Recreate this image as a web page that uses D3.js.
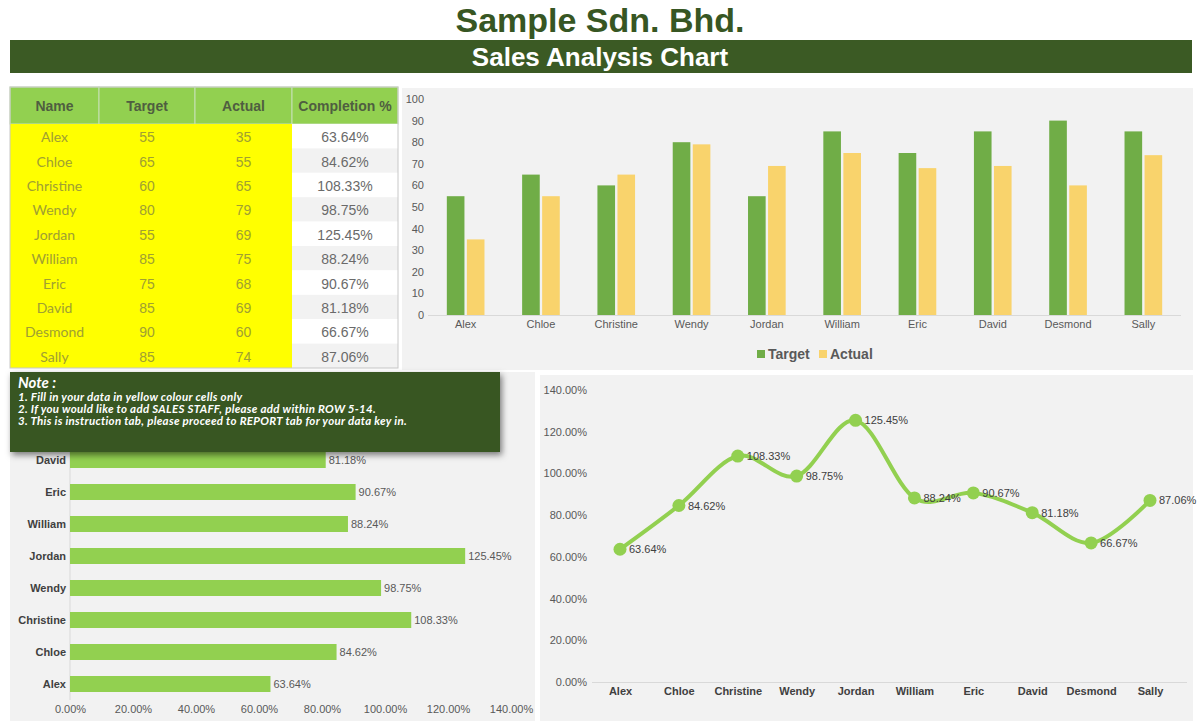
<!DOCTYPE html>
<html>
<head>
<meta charset="utf-8">
<script src="https://cdn.jsdelivr.net/npm/d3@7.9.0/dist/d3.min.js"></script>
<style>
  body { margin: 0; background: #fff; }
  svg { display: block; font-family: Arial, "Liberation Sans", sans-serif; }
</style>
</head>
<body>
<svg id="chart" width="1200" height="728"></svg>
<script>
// data read from the sheet
const names = ['Alex', 'Chloe', 'Christine', 'Wendy', 'Jordan', 'William', 'Eric', 'David', 'Desmond', 'Sally'];
const target = [55, 65, 60, 80, 55, 85, 75, 85, 90, 85];
const actual = [35, 55, 65, 79, 69, 75, 68, 69, 60, 74];
const completion = [63.64, 84.62, 108.33, 98.75, 125.45, 88.24, 90.67, 81.18, 66.67, 87.06];
const tableHeaders = ['Name', 'Target', 'Actual', 'Completion %'];
const noteLines = [
  '1. Fill in your data in yellow colour cells only',
  '2. If you would like to add SALES STAFF, please add within ROW 5-14.',
  '3. This is instruction tab, please proceed to REPORT tab for your data key in.'
];

const svg = d3.select('#chart');
const darkGreen = '#375623';
const green = '#70ad47';
const lightGreen = '#92d050';
const gold = '#f9d36c';
const panelBg = '#f2f2f2';
const axisText = '#595959';
const pct = (v) => v.toFixed(2) + '%';
const noteBottom = 452; // the note box sits over the top of the bar chart

// ---- title + banner ----
svg.append('text')
  .attr('x', 600).attr('y', 32)
  .attr('text-anchor', 'middle')
  .attr('font-size', 34).attr('font-weight', 'bold')
  .attr('fill', darkGreen)
  .text('Sample Sdn. Bhd.');

svg.append('rect').attr('x', 10).attr('y', 40).attr('width', 1182).attr('height', 33).attr('fill', '#3b5a24');
svg.append('text')
  .attr('x', 600).attr('y', 66)
  .attr('text-anchor', 'middle')
  .attr('font-size', 26).attr('font-weight', 'bold')
  .attr('fill', '#fff')
  .text('Sales Analysis Chart');

// ---- data table ----
const colEdges = [10, 99, 195, 292, 398];
const headTop = 87, headH = 37, rowH = 24.4;
const table = svg.append('g');

table.selectAll('rect.head')
  .data(tableHeaders)
  .join('rect')
  .attr('x', (d, i) => colEdges[i])
  .attr('y', headTop)
  .attr('width', (d, i) => colEdges[i + 1] - colEdges[i])
  .attr('height', headH)
  .attr('fill', lightGreen)
  .attr('stroke', '#c6e0b4').attr('stroke-width', 1);

table.selectAll('text.head')
  .data(tableHeaders)
  .join('text')
  .attr('x', (d, i) => (colEdges[i] + colEdges[i + 1]) / 2)
  .attr('y', headTop + headH / 2 + 5)
  .attr('text-anchor', 'middle')
  .attr('font-size', 14).attr('font-weight', 'bold')
  .attr('fill', '#4f5e40')
  .text(d => d);

const rowsTop = headTop + headH;
table.append('rect')
  .attr('x', colEdges[0]).attr('y', rowsTop)
  .attr('width', colEdges[3] - colEdges[0]).attr('height', rowH * names.length)
  .attr('fill', '#ffff00');

names.forEach((n, i) => {
  const y = rowsTop + i * rowH;
  table.append('rect')
    .attr('x', colEdges[3]).attr('y', y)
    .attr('width', colEdges[4] - colEdges[3]).attr('height', rowH)
    .attr('fill', i % 2 === 0 ? '#ffffff' : '#f2f2f2');
  const cells = [n, target[i], actual[i], pct(completion[i])];
  cells.forEach((c, j) => {
    table.append('text')
      .attr('x', (colEdges[j] + colEdges[j + 1]) / 2)
      .attr('y', y + rowH / 2 + 6)
      .attr('text-anchor', 'middle')
      .attr('font-size', 14)
      .attr('font-family', j === 0 ? 'Lato, sans-serif' : null)
      .attr('fill', j < 3 ? '#a0a032' : '#6a6a6a')
      .text(c);
  });
});
table.append('rect')
  .attr('x', colEdges[0]).attr('y', headTop)
  .attr('width', colEdges[4] - colEdges[0]).attr('height', headH + rowH * names.length)
  .attr('fill', 'none').attr('stroke', '#c8c8c8');

// ---- clustered column chart ----
svg.append('rect').attr('x', 402).attr('y', 88).attr('width', 791).attr('height', 282).attr('fill', panelBg);

const colX = d3.scaleBand().domain(names).range([428, 1181]).paddingInner(0.5).paddingOuter(0.25);
const colY = d3.scaleLinear().domain([0, 100]).range([315, 99]);
const sub = d3.scaleBand().domain(['Target', 'Actual']).range([0, colX.bandwidth()]).paddingInner(0.12);

const colAxisY = svg.append('g')
  .attr('transform', 'translate(428,0)')
  .call(d3.axisLeft(colY).ticks(10).tickSize(0).tickPadding(4));
colAxisY.select('.domain').remove();
colAxisY.selectAll('text').attr('fill', axisText).attr('font-size', 11).attr('font-family', 'Arial');

svg.append('line').attr('x1', 428).attr('x2', 1181).attr('y1', 315.5).attr('y2', 315.5).attr('stroke', '#d9d9d9');

const colGroups = svg.append('g').selectAll('g')
  .data(names.map((n, i) => ({ n, t: target[i], a: actual[i] })))
  .join('g')
  .attr('transform', d => `translate(${colX(d.n)},0)`);
colGroups.append('rect')
  .attr('x', sub('Target')).attr('width', sub.bandwidth())
  .attr('y', d => colY(d.t)).attr('height', d => colY(0) - colY(d.t))
  .attr('fill', green);
colGroups.append('rect')
  .attr('x', sub('Actual')).attr('width', sub.bandwidth())
  .attr('y', d => colY(d.a)).attr('height', d => colY(0) - colY(d.a))
  .attr('fill', gold);

const colAxisX = svg.append('g')
  .attr('transform', 'translate(0,314)')
  .call(d3.axisBottom(colX).tickSize(0).tickPadding(6));
colAxisX.select('.domain').remove();
colAxisX.selectAll('text').attr('fill', axisText).attr('font-size', 11).attr('font-family', 'Arial');

const legend = svg.append('g').attr('transform', 'translate(757,354)');
[['Target', green, 0], ['Actual', gold, 62]].forEach(([lbl, c, dx]) => {
  legend.append('rect').attr('x', dx).attr('y', -4).attr('width', 8).attr('height', 8).attr('fill', c);
  legend.append('text').attr('x', dx + 11).attr('y', 5)
    .attr('font-size', 14).attr('font-weight', 'bold').attr('fill', axisText).text(lbl);
});

// ---- horizontal bar chart ----
svg.append('rect').attr('x', 10).attr('y', 372).attr('width', 525).attr('height', 349).attr('fill', panelBg);

const barX = d3.scaleLinear().domain([0, 140]).range([70, 511]);
const barY = d3.scaleBand().domain(names.slice().reverse()).range([380, 700]).paddingInner(0.5).paddingOuter(0.25);
// labels of the rows hidden under the note box are not drawn
const visibleRow = (n) => barY(n) + barY.bandwidth() / 2 > noteBottom;

svg.append('line').attr('x1', 70).attr('x2', 70).attr('y1', 380).attr('y2', 700).attr('stroke', '#d9d9d9');

const hbData = names.map((n, i) => ({ n, v: completion[i] }));
svg.append('g').selectAll('rect')
  .data(hbData)
  .join('rect')
  .attr('x', barX(0)).attr('y', d => barY(d.n))
  .attr('width', d => barX(d.v) - barX(0)).attr('height', barY.bandwidth())
  .attr('fill', lightGreen);
svg.append('g').selectAll('text')
  .data(hbData.filter(d => visibleRow(d.n)))
  .join('text')
  .attr('x', d => barX(d.v) + 3).attr('y', d => barY(d.n) + barY.bandwidth() / 2 + 4)
  .attr('font-size', 11).attr('fill', axisText).text(d => pct(d.v));

const barAxisY = svg.append('g')
  .attr('transform', 'translate(70,0)')
  .call(d3.axisLeft(barY).tickSize(0).tickPadding(4));
barAxisY.select('.domain').remove();
barAxisY.selectAll('.tick').filter(d => !visibleRow(d)).remove();
barAxisY.selectAll('text').attr('fill', '#404040').attr('font-size', 11).attr('font-weight', 'bold').attr('font-family', 'Arial');

const barAxisX = svg.append('g')
  .attr('transform', 'translate(0,700)')
  .call(d3.axisBottom(barX).tickValues(d3.range(0, 141, 20)).tickFormat(pct).tickSize(0).tickPadding(5));
barAxisX.select('.domain').remove();
barAxisX.selectAll('text').attr('fill', axisText).attr('font-size', 11).attr('font-family', 'Arial');

// ---- note box (overlaps bar chart) ----
const defs = svg.append('defs');
const f = defs.append('filter').attr('id', 'shadow').attr('x', '-5%').attr('y', '-10%').attr('width', '115%').attr('height', '140%');
f.append('feDropShadow').attr('dx', 2).attr('dy', 3).attr('stdDeviation', 3).attr('flood-opacity', 0.5);

svg.append('rect')
  .attr('x', 10).attr('y', 372).attr('width', 490).attr('height', noteBottom - 372)
  .attr('fill', darkGreen).attr('filter', 'url(#shadow)');
const note = svg.append('g').attr('font-family', 'Lato, "Open Sans", sans-serif')
  .attr('font-weight', 'bold').attr('font-style', 'italic').attr('fill', '#fff');
note.append('text').attr('x', 18).attr('y', 388).attr('font-size', 15).text('Note :');
note.selectAll('text.line')
  .data(noteLines)
  .join('text')
  .attr('class', 'line')
  .attr('x', 18).attr('y', (d, i) => 401 + i * 12.2)
  .attr('font-size', 11.5)
  .attr('letter-spacing', 0.3)
  .text(d => d);

// ---- smoothed line chart ----
svg.append('rect').attr('x', 540).attr('y', 375).attr('width', 653).attr('height', 346).attr('fill', panelBg);

const lineX = d3.scalePoint().domain(names).range([620, 1150]);
const lineY = d3.scaleLinear().domain([0, 140]).range([682, 390]);

const lineAxisY = svg.append('g')
  .attr('transform', 'translate(590,0)')
  .call(d3.axisLeft(lineY).tickValues(d3.range(0, 141, 20)).tickFormat(pct).tickSize(0).tickPadding(3));
lineAxisY.select('.domain').remove();
lineAxisY.selectAll('text').attr('fill', axisText).attr('font-size', 11).attr('font-family', 'Arial');

svg.append('line').attr('x1', 592).attr('x2', 1187).attr('y1', 682.5).attr('y2', 682.5).attr('stroke', '#d9d9d9');

const lineAxisX = svg.append('g')
  .attr('transform', 'translate(0,681)')
  .call(d3.axisBottom(lineX).tickSize(0).tickPadding(6));
lineAxisX.select('.domain').remove();
lineAxisX.selectAll('text').attr('fill', '#404040').attr('font-size', 11).attr('font-weight', 'bold').attr('font-family', 'Arial');

const pts = names.map((n, i) => ({ n, v: completion[i] }));
const lineGen = d3.line()
  .x(d => lineX(d.n)).y(d => lineY(d.v))
  .curve(d3.curveCardinal.tension(0));
svg.append('path')
  .datum(pts)
  .attr('d', lineGen)
  .attr('fill', 'none').attr('stroke', lightGreen).attr('stroke-width', 4).attr('stroke-linecap', 'round');
svg.append('g').selectAll('circle')
  .data(pts)
  .join('circle')
  .attr('cx', d => lineX(d.n)).attr('cy', d => lineY(d.v)).attr('r', 6.5)
  .attr('fill', lightGreen);
svg.append('g').selectAll('text')
  .data(pts)
  .join('text')
  .attr('x', d => lineX(d.n) + 9).attr('y', d => lineY(d.v) + 4)
  .attr('font-size', 11).attr('fill', '#404040').text(d => pct(d.v));
</script>
</body>
</html>
